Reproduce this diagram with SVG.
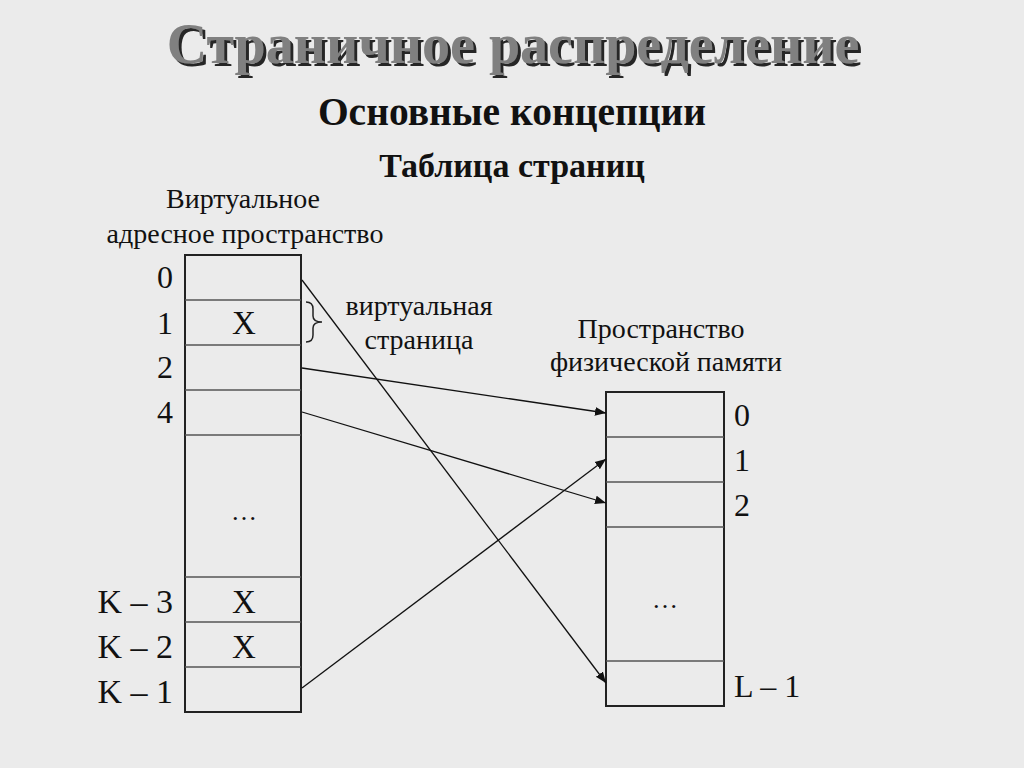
<svg xmlns="http://www.w3.org/2000/svg" width="1024" height="768" viewBox="0 0 1024 768">
<defs>
<style>
.t{font-family:"Liberation Serif","Times New Roman",serif;fill:#111}
.b{font-weight:bold}
.c{text-anchor:middle}
.r{text-anchor:end}
.lab{font-size:28px}
.num{font-size:32px}
.box{fill:none;stroke:#222;stroke-width:2}
.div{stroke:#555;stroke-width:1.5}
.con{stroke:#111;stroke-width:1.3;fill:none}
</style>
<filter id="sh" x="-5%" y="-20%" width="110%" height="150%">
<feFlood flood-color="#262626"/>
<feComposite in2="SourceAlpha" operator="in"/>
<feOffset dx="3" dy="3" result="s"/>
<feMerge><feMergeNode in="s"/><feMergeNode in="SourceGraphic"/></feMerge>
</filter>
<marker id="ah" viewBox="0 0 10 10" refX="10" refY="5" markerWidth="11" markerHeight="11" markerUnits="userSpaceOnUse" orient="auto">
<path d="M0,1 L10,5 L0,9 Z" fill="#111"/>
</marker>
</defs>
<rect width="1024" height="768" fill="#ebebeb"/>
<g id="title">
<text class="t b c" x="513" y="63" font-size="56" style="fill:#808080" filter="url(#sh)">Страничное распределение</text>
</g>
<text class="t b c" x="512" y="125" font-size="39.5">Основные концепции</text>
<text class="t b c" x="512" y="177" font-size="34">Таблица страниц</text>
<g id="virtual">
<text class="t c lab" x="243" y="208">Виртуальное</text>
<text class="t c lab" x="245" y="243">адресное пространство</text>
<rect class="box" x="185" y="255" width="116" height="457"/>
<line class="div" x1="185" y1="300" x2="301" y2="300"/>
<line class="div" x1="185" y1="345" x2="301" y2="345"/>
<line class="div" x1="185" y1="390" x2="301" y2="390"/>
<line class="div" x1="185" y1="435" x2="301" y2="435"/>
<line class="div" x1="185" y1="577" x2="301" y2="577"/>
<line class="div" x1="185" y1="622" x2="301" y2="622"/>
<line class="div" x1="185" y1="667" x2="301" y2="667"/>
<text class="t c" x="244" y="334" font-size="33">X</text>
<text class="t c" x="244" y="520" font-size="26">…</text>
<text class="t c" x="244" y="613" font-size="33">X</text>
<text class="t c" x="244" y="658" font-size="33">X</text>
<text class="t c num" x="165" y="288">0</text>
<text class="t c num" x="165" y="334">1</text>
<text class="t c num" x="165" y="378">2</text>
<text class="t c num" x="165" y="423">4</text>
<text class="t r" font-size="34" x="173" y="613">K – 3</text>
<text class="t r" font-size="34" x="173" y="658">K – 2</text>
<text class="t r" font-size="34" x="173" y="703">K – 1</text>
</g>
<g id="brace">
<path d="M306,302 Q313,302 313,309 L313,316 Q313,322 322,322 Q313,322 313,328 L313,335 Q313,342 306,342" fill="none" stroke="#222" stroke-width="1.5"/>
<text class="t c lab" x="419" y="315">виртуальная</text>
<text class="t c lab" x="419" y="349">страница</text>
</g>
<g id="physical">
<text class="t c lab" x="661" y="338">Пространство</text>
<text class="t c lab" x="666" y="371">физической памяти</text>
<rect class="box" x="606" y="392" width="118" height="314"/>
<line class="div" x1="606" y1="437" x2="724" y2="437"/>
<line class="div" x1="606" y1="482" x2="724" y2="482"/>
<line class="div" x1="606" y1="527" x2="724" y2="527"/>
<line class="div" x1="606" y1="661" x2="724" y2="661"/>
<text class="t c" x="665" y="608" font-size="26">…</text>
<text class="t num" x="734" y="426">0</text>
<text class="t num" x="734" y="471">1</text>
<text class="t num" x="734" y="516">2</text>
<text class="t num" x="734" y="697">L – 1</text>
</g>
<g id="connectors">
<line class="con" x1="302" y1="280" x2="606" y2="683" marker-end="url(#ah)"/>
<line class="con" x1="302" y1="368" x2="606" y2="413" marker-end="url(#ah)"/>
<line class="con" x1="302" y1="412" x2="606" y2="503" marker-end="url(#ah)"/>
<line class="con" x1="302" y1="688" x2="606" y2="459" marker-end="url(#ah)"/>
</g>
</svg>
